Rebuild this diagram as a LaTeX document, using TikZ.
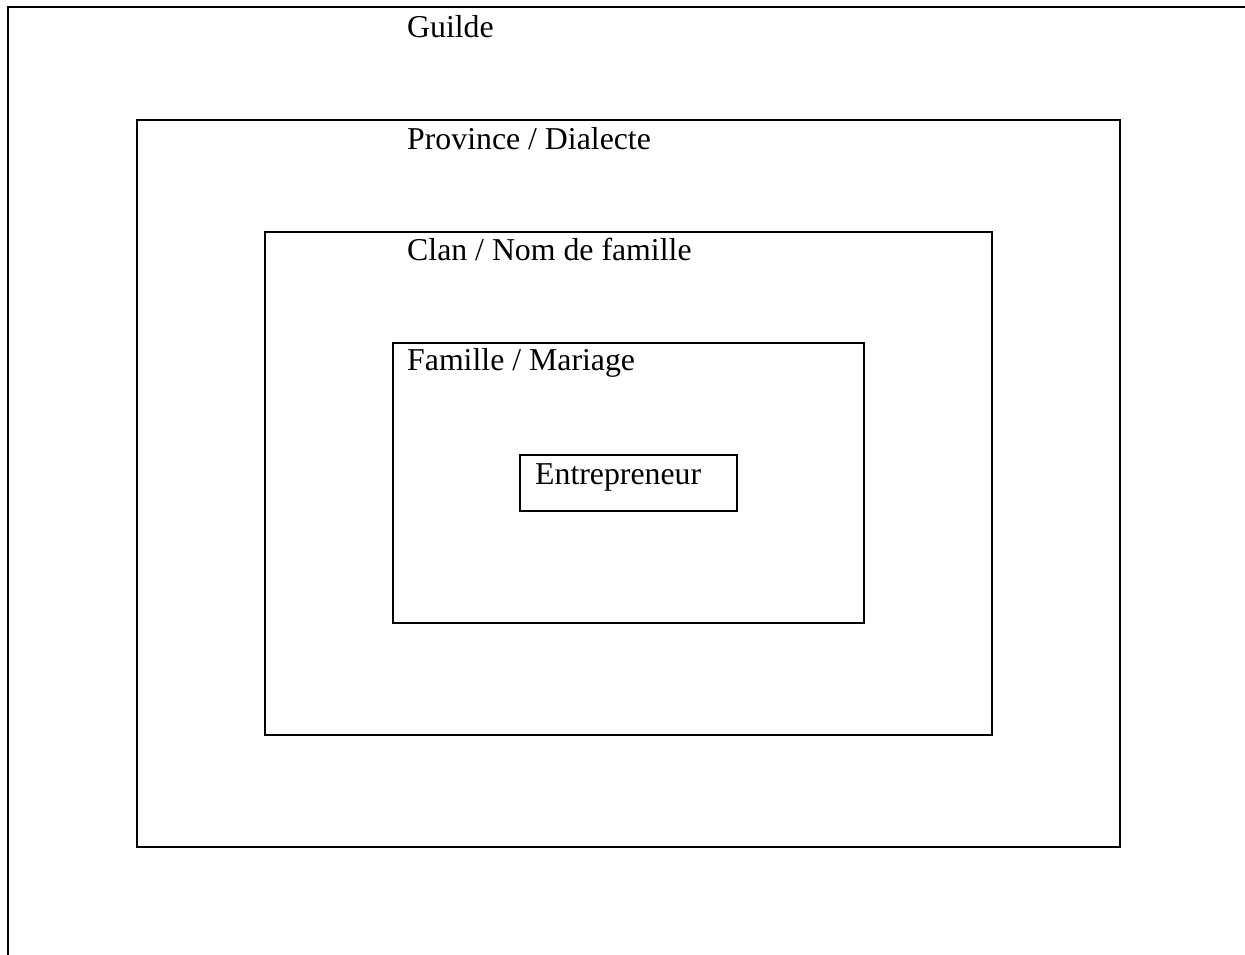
\documentclass[tikz,border=0pt]{standalone}
\usepackage{fontspec}
\setmainfont{Liberation Serif}
\begin{document}
\begin{tikzpicture}[x=1pt,y=-1pt,
  frame/.style={draw=black,line width=2pt,inner sep=0pt,anchor=north west},
  lbl/.style={anchor=base west,inner sep=0pt,font=\fontsize{31.8}{38}\selectfont}]
\useasboundingbox (0,0) rectangle (1245,954);
\fill[white] (0,0) rectangle (1245,954);
% outer frame (partly visible)
\draw[line width=2pt] (8,960) -- (8,7) -- (1250,7);
\node[frame,minimum width=983pt,minimum height=727pt] (prov) at (135.5,118.5) {};
\node[frame,minimum width=727pt,minimum height=503pt] (clan) at (263.5,230.5) {};
\node[frame,minimum width=471pt,minimum height=280pt] (fam) at (391.5,341.5) {};
\node[frame,minimum width=217pt,minimum height=56pt] (ent) at (518.5,453.5) {};
\node[lbl] (tg) at (407,37.5) {Guilde};
\node[lbl] (tp) at (407,149.5) {Province / Dialecte};
\node[lbl] (tc) at (407,260.5) {Clan / Nom de famille};
\node[lbl] (tf) at (407,370.5) {Famille / Mariage};
\node[lbl] (te) at (535,484) {Entrepreneur};
\end{tikzpicture}
\end{document}
